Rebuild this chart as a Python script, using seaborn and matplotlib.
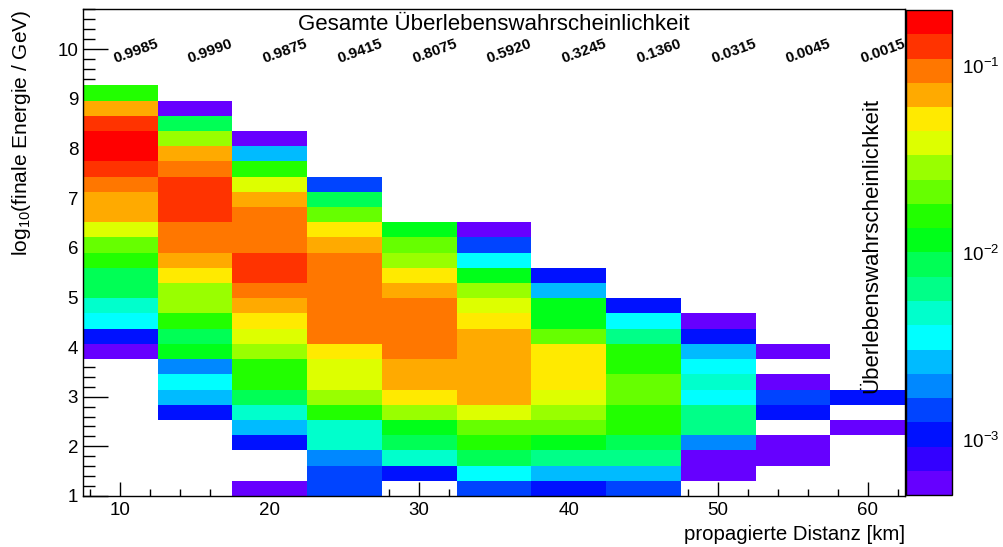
import numpy as np
import pandas as pd
import matplotlib
matplotlib.use("Agg")
import matplotlib.pyplot as plt
from matplotlib.colors import ListedColormap, LogNorm
from matplotlib.ticker import MultipleLocator, LogLocator, NullFormatter
import seaborn as sns

# ---------------- data ----------------
distances = [10, 15, 20, 25, 30, 35, 40, 45, 50, 55, 60]  # km (bin centres)
survival_labels = ["0.9985", "0.9990", "0.9875", "0.9415", "0.8075", "0.5920",
                   "0.3245", "0.1360", "0.0315", "0.0045", "0.0015"]
# index of the lowest energy bin listed for every distance column
first_bin = [9, 5, 0, 0, 0, 0, 0, 0, 0, 0, 0]

# probabilities per energy bin (from lowest listed bin upwards), 0 = empty
p_10km = [0.0006, 0.00107, 0.0035, 0.0048, 0.0087, 0.0087, 0.0158, 0.0213, 0.0387,
          0.070, 0.070, 0.095, 0.128, 0.172, 0.172, 0.128, 0.070, 0.0158]
p_15km = [0.00107, 0.0026, 0.0035, 0.00195, 0.0117, 0.0087, 0.0158, 0.0287, 0.0287,
          0.052, 0.070, 0.095, 0.095, 0.128, 0.128, 0.128, 0.095, 0.070, 0.0287,
          0.0087, 0.0006]
p_20km = [0.0006, 0, 0, 0.00107, 0.0026, 0.0048, 0.0087, 0.0158, 0.0158, 0.0287,
          0.0387, 0.052, 0.070, 0.095, 0.128, 0.128, 0.095, 0.095, 0.095, 0.070,
          0.0387, 0.0158, 0.0026, 0.0006]
p_25km = [0.00145, 0.00145, 0.00195, 0.0048, 0.0048, 0.0158, 0.0287, 0.0387, 0.0387,
          0.052, 0.095, 0.095, 0.095, 0.095, 0.095, 0.095, 0.070, 0.052, 0.0213,
          0.0087, 0.00145]
p_30km = [0, 0.00107, 0.0048, 0.0087, 0.0117, 0.0287, 0.052, 0.070, 0.070, 0.095,
          0.095, 0.095, 0.095, 0.070, 0.052, 0.0287, 0.0213, 0.0117]
p_35km = [0.00145, 0.0035, 0.0087, 0.0158, 0.0213, 0.0387, 0.070, 0.070, 0.070,
          0.070, 0.070, 0.052, 0.0387, 0.0287, 0.0117, 0.0035, 0.00145, 0.0006]
p_40km = [0.00107, 0.0026, 0.0064, 0.0117, 0.0213, 0.0287, 0.0387, 0.052, 0.052,
          0.052, 0.0213, 0.0117, 0.0117, 0.0026, 0.00107]
p_45km = [0.00145, 0.0026, 0.0064, 0.0087, 0.0158, 0.0158, 0.0213, 0.0213, 0.0158,
          0.0158, 0.0064, 0.0035, 0.00107]
p_50km = [0, 0.0006, 0.0006, 0.00195, 0.0064, 0.0064, 0.0035, 0.0048, 0.0035,
          0.0026, 0.00107, 0.0006]
p_55km = [0, 0, 0.0006, 0.0006, 0, 0.00107, 0.00145, 0.0006, 0, 0.0006]
p_60km = [0, 0, 0, 0, 0.0006, 0, 0.00107]

columns = [p_10km, p_15km, p_20km, p_25km, p_30km, p_35km,
           p_40km, p_45km, p_50km, p_55km, p_60km]

# ROOT-like palette (20 levels, violet -> red)
palette_colors = ["#6600ff", "#3300ff", "#0011ff", "#0044ff", "#0088ff", "#00bbff",
                  "#00ffff", "#00ffcc", "#00ff88", "#00ff55", "#00ff19", "#22ff00",
                  "#66ff00", "#99ff00", "#ddff00", "#ffea00", "#ffaa00", "#ff7700",
                  "#ff3300", "#ff0000"]
z_min, z_max = 5.08e-4, 0.1995

# binning
x_edges = np.arange(7.5, 62.6, 5.0)
y_edges = np.linspace(1.0, 10.8, 33)
dy = y_edges[1] - y_edges[0]

rows = []
for d, k0, vals in zip(distances, first_bin, columns):
    for j, v in enumerate(vals):
        k = k0 + j
        rows.append({"distance": d, "log_e": y_edges[k] + dy / 2, "prob": v})
df = pd.DataFrame(rows)

# ---------------- style ----------------
sns.set_theme(style="white")
plt.rcParams["font.family"] = ["Liberation Sans", "DejaVu Sans"]
plt.rcParams["mathtext.fontset"] = "custom"
plt.rcParams["mathtext.rm"] = "Liberation Sans"
plt.rcParams["mathtext.it"] = "Liberation Sans:italic"
plt.rcParams["mathtext.bf"] = "Liberation Sans:bold"
plt.rcParams["axes.unicode_minus"] = False
plt.rcParams["text.color"] = "black"
plt.rcParams["axes.labelcolor"] = "black"
plt.rcParams["xtick.color"] = "black"
plt.rcParams["ytick.color"] = "black"

W, H = 1004, 547
fig = plt.figure(figsize=(W / 100, H / 100), dpi=100)
ax = fig.add_axes([83 / W, 1 - 496 / H, (905 - 83) / W, (496 - 9.3) / H])
cax = fig.add_axes([906 / W, 1 - 495 / H, 46 / W, 485 / H])

cmap = ListedColormap(palette_colors)
norm = LogNorm(vmin=z_min, vmax=z_max)

sns.histplot(data=df, x="distance", y="log_e", weights="prob",
             bins=(x_edges, y_edges), cmap=cmap, cbar=False, ax=ax)
mesh = ax.collections[-1]
mesh.set_cmap(cmap)
mesh.set_norm(norm)

ax.set_xlim(7.5, 62.5)
ax.set_ylim(1.0, 10.8)

# axes styling
for s in ax.spines.values():
    s.set_visible(True)
    s.set_color("black")
    s.set_linewidth(1.0)
ax.xaxis.set_major_locator(MultipleLocator(10))
ax.xaxis.set_minor_locator(MultipleLocator(2))
ax.yaxis.set_major_locator(MultipleLocator(1))
ax.yaxis.set_minor_locator(MultipleLocator(0.2))
ax.tick_params(axis="x", which="major", direction="in", length=10, width=1,
               color="black", labelcolor="black", labelsize=13.5, pad=4,
               bottom=True, top=False)
ax.tick_params(axis="x", which="minor", direction="in", length=4.8, width=1,
               color="black", bottom=True, top=False)
ax.tick_params(axis="y", which="major", direction="in", length=18, width=1,
               color="black", labelcolor="black", labelsize=13.5, pad=3.5,
               left=True, right=False)
ax.tick_params(axis="y", which="minor", direction="in", length=8.6, width=1,
               color="black", left=True, right=False)
ax.grid(False)

ax.set_xlabel("propagierte Distanz [km]", fontsize=14.7, loc="right", color="black")
ax.xaxis.set_label_coords(1.0, -(525 - 496) / 486.7)
ax.xaxis.label.set_va("top")
ax.set_ylabel("log$_{10}$(finale Energie / GeV)", fontsize=15, loc="top", color="black")
ax.yaxis.set_label_coords((33 - 83) / 822, 1.0)

# title inside the frame
ax.text(35, 10.39, "Gesamte Überlebenswahrscheinlichkeit", ha="center",
        va="baseline", fontsize=16, color="black")

# survival probability per column
for d, lab in zip(distances, survival_labels):
    ax.text(d - 0.35, 9.72, lab, rotation=20, rotation_mode="anchor",
            ha="left", va="baseline", fontsize=11, fontweight="bold",
            color="black", clip_on=False, zorder=5)

# colour bar
cb = fig.colorbar(mesh, cax=cax)
cb.outline.set_edgecolor("black")
cb.outline.set_linewidth(1.0)
cax.yaxis.set_ticks_position("right")
cax.yaxis.set_major_locator(LogLocator(base=10))
cax.yaxis.set_minor_locator(LogLocator(base=10, subs=np.arange(2, 10)))
cax.yaxis.set_minor_formatter(NullFormatter())
cax.tick_params(which="major", direction="in", length=16.5, width=1,
                color="black", labelcolor="black", labelsize=13.5, pad=7)
cax.tick_params(which="minor", direction="in", length=8.6, width=1, color="black")

fig.text(872 / W, 1 - 245 / H, "Überlebenswahrscheinlichkeit", rotation=90,
         ha="center", va="center", fontsize=16, color="black")

fig.savefig("out.png", dpi=100)
